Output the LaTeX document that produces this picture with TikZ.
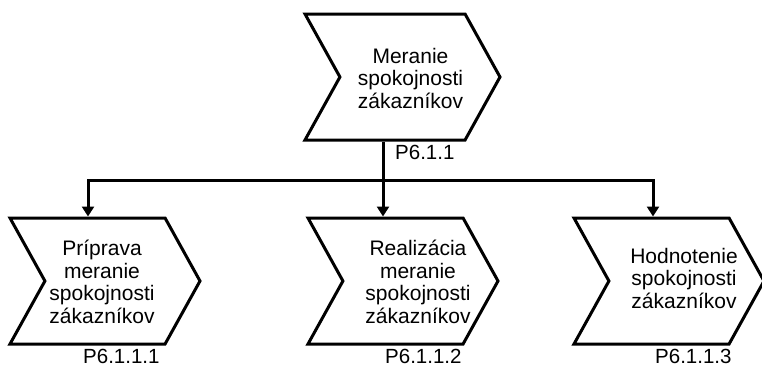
\documentclass[tikz,border=0pt]{standalone}
\usepackage{fontspec}
\setmainfont{Liberation Sans}
\usetikzlibrary{shapes.symbols, arrows.meta, positioning, calc}

\begin{document}
\begin{tikzpicture}[x=1pt, y=-1pt,
    chevron/.style={draw, line width=3pt, signal, signal from=west, signal to=east,
        signal pointer angle=122, minimum width=#1, minimum height=126pt, inner sep=0pt},
    chevron/.default=190pt,
    caption/.style={font=\fontsize{21}{22.5}\selectfont, align=center, inner sep=0pt},
    code/.style={font=\fontsize{20.5}{24}\selectfont, anchor=west, inner sep=0pt},
    link/.style={line width=3pt, -{Triangle[length=10pt, width=12pt]}}]
    \useasboundingbox (0,0) rectangle (762,368);

    % Process chevrons
    \node[chevron=195pt] (root) at (402.5,77) {};
    \node[chevron] (prep) at (105,281) {};
    \node[chevron] (real) at (403,281) {};
    \node[chevron] (eval) at (669,281) {};

    % Texts inside the chevrons
    \node[caption] (troot) at ($(root.center)+(8,1)$) {Meranie\\spokojnosti\\zákazníkov};
    \node[caption] (tprep) at ($(prep.center)+(-3,1)$) {Príprava\\meranie\\spokojnosti\\zákazníkov};
    \node[caption] (treal) at ($(real.center)+(15,1)$) {Realizácia\\meranie\\spokojnosti\\zákazníkov};
    \node[caption] (teval) at ($(eval.center)+(15,-3)$) {Hodnotenie\\spokojnosti\\zákazníkov};

    % Process codes
    \node[code] (croot) at (395,152) {P6.1.1};
    \node[code] (cprep) at (83,356) {P6.1.1.1};
    \node[code] (creal) at (385,356) {P6.1.1.2};
    \node[code] (ceval) at (655,356) {P6.1.1.3};

    % Connectors
    \coordinate (bus) at (383,180);
    \draw[line width=3pt] ([xshift=-19.5pt]root.south) -- (bus);
    \draw[link] (bus) -| ([xshift=-17pt]prep.north);
    \draw[link] (bus) -- ([xshift=-20pt]real.north);
    \draw[link] (bus) -| ([xshift=-16pt]eval.north);
\end{tikzpicture}
\end{document}
